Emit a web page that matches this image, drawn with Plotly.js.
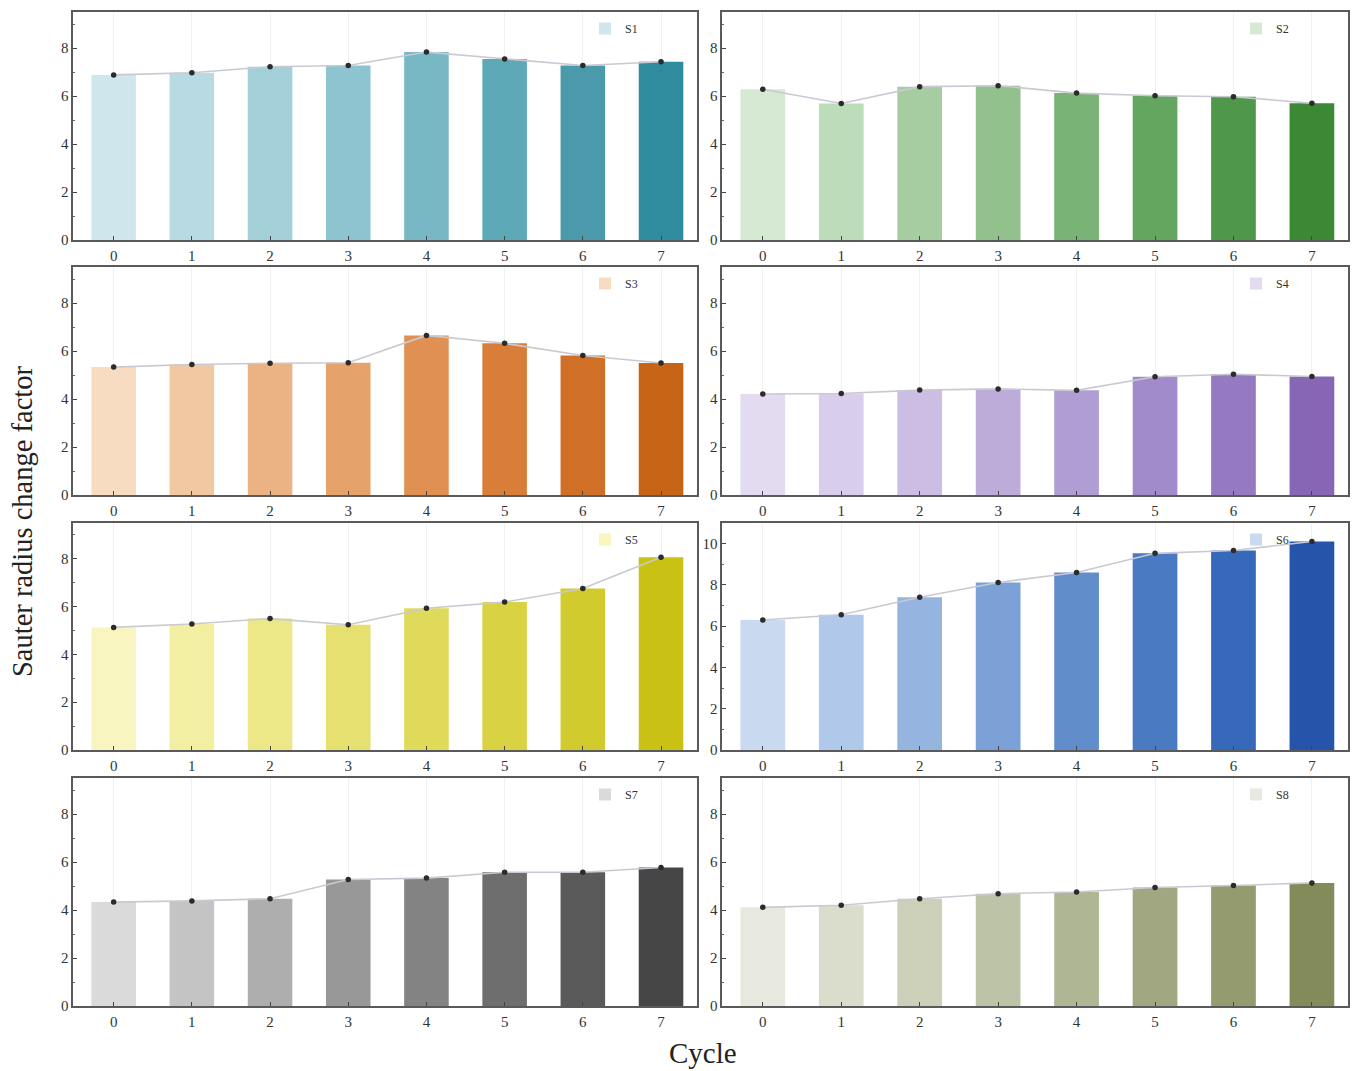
<!DOCTYPE html>
<html>
<head>
<meta charset="utf-8">
<script src="https://cdn.plot.ly/plotly-3.0.1.min.js"></script>
<style>
  html, body { margin: 0; padding: 0; background: #fff; }
  #chart { width: 1363px; height: 1071px; }
</style>
</head>
<body>
<div id="chart"></div>
<script>
// Cycle index on the x axis
const cycles = [0, 1, 2, 3, 4, 5, 6, 7];
const cycleLabels = ['0', '1', '2', '3', '4', '5', '6', '7'];

// Sauter radius change factor per sample
const s1 = [6.88, 6.97, 7.22, 7.27, 7.83, 7.54, 7.27, 7.43];
const s2 = [6.28, 5.69, 6.39, 6.43, 6.12, 6.01, 5.97, 5.70];
const s3 = [5.33, 5.44, 5.49, 5.51, 6.65, 6.32, 5.81, 5.50];
const s4 = [4.21, 4.23, 4.37, 4.42, 4.36, 4.93, 5.03, 4.94];
const s5 = [5.13, 5.27, 5.50, 5.24, 5.93, 6.19, 6.76, 8.07];
const s6 = [6.30, 6.55, 7.40, 8.12, 8.60, 9.53, 9.67, 10.10];
const s7 = [4.33, 4.38, 4.47, 5.27, 5.33, 5.57, 5.57, 5.77];
const s8 = [4.11, 4.20, 4.47, 4.68, 4.75, 4.94, 5.02, 5.13];

const sampleNames = ['S1', 'S2', 'S3', 'S4', 'S5', 'S6', 'S7', 'S8'];
const sampleValues = [s1, s2, s3, s4, s5, s6, s7, s8];
const yTop = [9.5, 9.5, 9.5, 9.5, 9.5, 11, 9.5, 9.5];

// Light-to-dark ramps, one colour per cycle
const teal   = ['#cfe7ec', '#b8dbe3', '#a2cfd8', '#8dc4cf', '#77b8c4', '#5ea9b8', '#4a9aab', '#2f8b9e'];
const green  = ['#d6e9d3', '#bddcb9', '#a6cda1', '#92c18d', '#7ab376', '#64a55f', '#4f974a', '#3b8935'];
const orange = ['#f8dcc2', '#f2c8a2', '#ebb383', '#e5a26a', '#e09052', '#d87e38', '#d07026', '#c76416'];
const purple = ['#e3dbf0', '#d8cdea', '#cbbde3', '#bdacda', '#b09dd3', '#a28bca', '#957ac2', '#8766b6'];
const yellow = ['#f8f5c0', '#f2efa2', '#ece888', '#e6e070', '#e0da5a', '#d9d344', '#d2cb2e', '#c9c214'];
const blue   = ['#c8d9f0', '#b0c8ea', '#95b4e0', '#7ba1d6', '#618dcb', '#497ac2', '#3669b9', '#2554aa'];
const gray   = ['#dadada', '#c4c4c4', '#aeaeae', '#989898', '#838383', '#6e6e6e', '#5a5a5a', '#464646'];
const olive  = ['#e7e9de', '#dadccc', '#ccd0b9', '#bdc3a6', '#afb694', '#a1a881', '#939b6f', '#838b5a'];
const palettes = [teal, green, orange, purple, yellow, blue, gray, olive];

// Panel frames in page pixels: [left, right] for columns, [top, bottom] for rows
const W = 1363, H = 1071;
const cols = [[73, 697], [722, 1348]];
const rows = [[12, 240], [267, 495], [523, 750], [778, 1006]];

const serif = 'Liberation Serif, Times New Roman, serif';
const traces = [];
const layout = {
  width: W, height: H,
  margin: {l: 0, r: 0, t: 0, b: 0},
  paper_bgcolor: '#ffffff',
  plot_bgcolor: '#ffffff',
  showlegend: true,
  font: {family: serif, color: '#333333', size: 13},
  annotations: [
    {text: 'Sauter radius change factor', xref: 'paper', yref: 'paper',
     x: 22 / W, y: 1 - 522 / H, xanchor: 'center', yanchor: 'middle',
     textangle: -90, showarrow: false,
     font: {family: serif, size: 28.5, color: '#222222'}},
    {text: 'Cycle', xref: 'paper', yref: 'paper',
     x: 703 / W, y: 1 - 1053 / H, xanchor: 'center', yanchor: 'middle',
     showarrow: false,
     font: {family: serif, size: 29, color: '#222222'}}
  ]
};

sampleValues.forEach((vals, i) => {
  const col = cols[i % 2];
  const row = rows[Math.floor(i / 2)];
  const n = i === 0 ? '' : String(i + 1);
  const xa = 'x' + n, ya = 'y' + n;
  const legendId = 'legend' + n;

  traces.push({
    type: 'bar', x: cycles, y: vals, name: sampleNames[i],
    xaxis: xa, yaxis: ya, legend: legendId,
    width: 0.57,
    marker: {color: palettes[i], line: {width: 0}},
    hoverinfo: 'x+y'
  });
  traces.push({
    type: 'scatter', mode: 'lines+markers', x: cycles, y: vals,
    xaxis: xa, yaxis: ya, showlegend: false,
    line: {color: '#c9c9d3', width: 1.6},
    marker: {color: '#2b2b2b', size: 5.5}
  });

  const axisBase = {
    showline: true, mirror: true, linecolor: '#5a5a5a', linewidth: 1.6,
    zeroline: false, ticks: 'inside', tickcolor: '#444444', ticklen: 4,
    tickfont: {family: serif, size: 15, color: '#333333'}
  };
  layout['xaxis' + n] = Object.assign({}, axisBase, {
    domain: [col[0] / W, col[1] / W],
    anchor: ya,
    range: [-0.52, 7.46],
    tickvals: cycles, ticktext: cycleLabels,
    ticklabelstandoff: 1,
    showgrid: true, gridcolor: '#f0f0f0', gridwidth: 1
  });
  layout['yaxis' + n] = Object.assign({}, axisBase, {
    domain: [1 - row[1] / H, 1 - row[0] / H],
    anchor: xa,
    range: [0, yTop[i]],
    dtick: 2, tick0: 0,
    showgrid: false,
    minor: {ticks: 'inside', ticklen: 2, tickcolor: '#666666', dtick: 1}
  });
  layout[legendId] = {
    x: (col[1] - 112) / W, y: 1 - (row[0] + 2) / H,
    xanchor: 'left', yanchor: 'top',
    bgcolor: 'rgba(0,0,0,0)', borderwidth: 0,
    font: {family: serif, size: 12, color: '#333333'},
    itemwidth: 30
  };
});

Plotly.newPlot('chart', traces, layout, {displayModeBar: false, staticPlot: true});
</script>
</body>
</html>
